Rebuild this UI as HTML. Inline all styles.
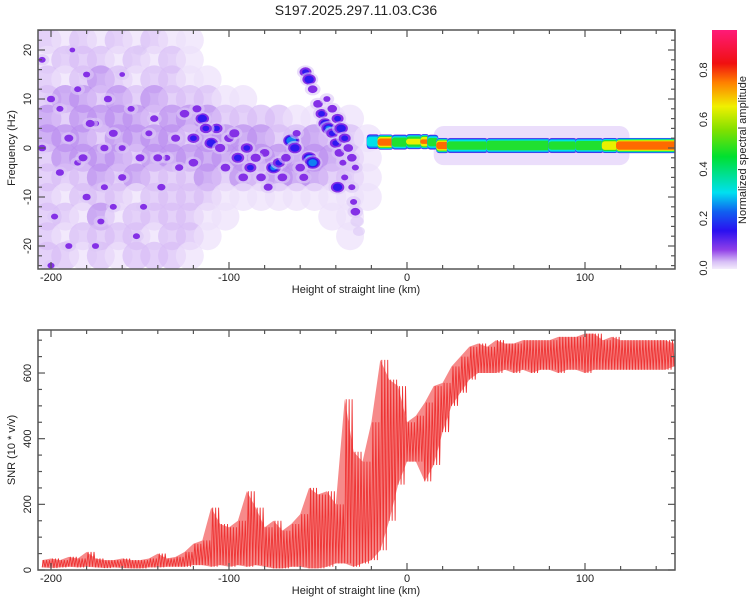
<!DOCTYPE html>
<html><head><meta charset="utf-8">
<style>
html,body{margin:0;padding:0;background:#fff;}
svg text{font-family:"Liberation Sans",sans-serif;fill:#222;}
</style></head>
<body>
<svg id="chart" width="750" height="600" xmlns="http://www.w3.org/2000/svg">
<defs>
<clipPath id="clipTop"><rect x="38" y="30" width="637" height="239"/></clipPath>
<clipPath id="clipBot"><rect x="38" y="330" width="637" height="240"/></clipPath>
<linearGradient id="cbGrad" x1="0" y1="1" x2="0" y2="0">
<stop offset="0" stop-color="#f4ecfc"/><stop offset="0.03" stop-color="#d8c0f6"/>
<stop offset="0.08" stop-color="#9040e8"/><stop offset="0.16" stop-color="#2a10f0"/>
<stop offset="0.24" stop-color="#1060f0"/><stop offset="0.32" stop-color="#00e0f0"/>
<stop offset="0.47" stop-color="#00e030"/><stop offset="0.58" stop-color="#80e000"/>
<stop offset="0.68" stop-color="#f0f000"/><stop offset="0.78" stop-color="#ff8000"/>
<stop offset="0.86" stop-color="#f01010"/><stop offset="1" stop-color="#ff1a78"/>
</linearGradient>
</defs>
<text x="356" y="15" font-size="14" text-anchor="middle">S197.2025.297.11.03.C36</text>
<g id="topPlot"></g>
<g id="botPlot"></g>
<g id="cbar"></g>
</svg>
<script>
// ---------- data ----------
const bgRowFreqs = [22,18,14,10,6,2,-2,-6,-10,-14,-18,-22];
const bgColStart = -207;
const bgRows = [
"21212121100000000000",
"12221212100000000000",
"21232122110000000000",
"23323232221100000000",
"32333323332222111100",
"33323333233332232210",
"23333233333333333210",
"22232322232323332210",
"21222122221111111110",
"22131222211000001100",
"21222212210000000100",
"22121222100000000000"];
const blobKm  = [-57,-55,-53,-50,-48,-46,-44,-42,-40,-38,-36,-45,-42,-39,-37,-35,-33,-31,-29,-39,-35,-31,-30,-29,-28,-27,-75,-72,-65,-63,-55,-53,-110,-107,-115,-113,-120,-125,-95,-88,-82,-100,-90,-70,-60,-80,-135,-145,-160,-175,-185,-195,-165,-190,-180,-150,-170,-200,-205,
 -200,-195,-190,-185,-180,-178,-172,-168,-165,-160,-155,-150,-148,-142,-138,-130,-128,-198,-188,-175,-160,-152,-205,-182,-170,-140,-120,-118,-105,-102,-97,-92,-85,-78,-68,-58,-62];
const blobHz  = [15.5,14,12,9,7,5,4,3,1,-1,-3,10,8,6,4,2,0,-2,-4,-8,-6,-8,-11,-13,-15,-17,-4,-3,1.5,0,-2,-3,1,4,6,4,2,7,-2,-4,-6,2,0,-6,-4,-1,-2,3,0,5,-3,8,-12,-20,15,20,-8,-24,18,
 10,-5,2,12,-10,5,-15,10,3,-6,8,-2,-12,6,-8,2,-4,-14,20,-20,15,-18,0,-2,0,-2,-3,8,0,-4,3,-6,-2,-8,-2,-6,3];
const blobAmp = [0.2,0.25,0.15,0.15,0.2,0.25,0.3,0.2,0.2,0.15,0.12,0.12,0.15,0.2,0.25,0.2,0.15,0.15,0.12,0.25,0.12,0.12,0.12,0.15,0.1,0.08,0.3,0.2,0.4,0.25,0.3,0.35,0.25,0.2,0.25,0.2,0.2,0.15,0.22,0.2,0.15,0.15,0.2,0.15,0.15,0.15,0.12,0.12,0.12,0.12,0.12,0.12,0.12,0.12,0.12,0.1,0.12,0.12,0.12,
 0.13,0.13,0.14,0.12,0.13,0.14,0.12,0.13,0.14,0.13,0.12,0.14,0.12,0.13,0.13,0.14,0.13,0.12,0.11,0.12,0.11,0.12,0.13,0.14,0.13,0.14,0.15,0.14,0.16,0.15,0.16,0.15,0.16,0.14,0.15,0.14,0.13];
const bandStart = [-22,-16,-8,0,8,12,17,23,45,80,95,110,118];
const bandEnd   = [-16,-8,0,8,12,17,23,45,80,95,110,118,151];
const bandAmp   = [0.5,0.9,0.65,0.72,0.85,0.62,0.9,0.62,0.68,0.62,0.66,0.8,0.95];
const bandHz    = [1.3,1.2,1.2,1.3,1.3,1.2,0.5,0.5,0.5,0.5,0.5,0.5,0.5];
const hazeStart = 15, hazeEnd = 125, hazeHalfHz = 4;
const snrKm = [];
for (let k=-205;k<=150;k+=5) snrKm.push(k);
const snrLow  = [8,6,8,10,8,10,8,6,8,6,5,5,8,8,10,10,10,15,15,10,15,10,15,10,15,10,5,5,10,10,5,5,10,20,20,10,20,30,60,150,260,330,330,270,320,420,500,540,580,600,600,600,610,600,610,600,610,610,600,610,610,600,610,610,610,610,610,610,610,610,610,620];
const snrHigh = [30,35,30,40,35,55,35,30,30,35,30,30,35,50,35,40,55,80,90,190,140,130,150,240,190,130,150,120,140,170,250,230,240,200,520,360,330,450,640,580,560,450,470,510,560,570,620,650,680,690,680,700,690,690,700,700,700,700,710,710,710,720,720,700,710,700,700,700,700,700,700,690];
const xTickLabels = [-200,-100,0,100];
const fTickLabels = [-20,-10,0,10,20];
const snrTickLabels = [0,200,400,600];
const cbTickLabels = ["0.0","0.2","0.4","0.6","0.8"];

// ---------- scales ----------
const NS="http://www.w3.org/2000/svg";
const X = km => 407 + km*1.78;
const YF = hz => 148 - hz*4.9;
const YS = v => 570 - v*0.3283;
const YC = a => 268 - a*247.5;
const levels = [0.04,0.1,0.17,0.26,0.4,0.55,0.7,0.84,0.95];
const levelColors = ["#dcc8f7","#8430e6","#3018f0","#1080f0","#00e0e8","#20e030","#e8f000","#ff6a00","#ff1040"];
const bgColors = ["none","#ecdffb","#d9bef6","#bb8ef0","#8a40e4"];
function el(tag, attrs, parent){const e=document.createElementNS(NS,tag);for(const k in attrs)e.setAttribute(k,attrs[k]);parent.appendChild(e);return e;}

const topG = document.getElementById('topPlot');
const botG = document.getElementById('botPlot');
const cbG = document.getElementById('cbar');

// ---------- spectrogram ----------
const gT = el('g',{'clip-path':'url(#clipTop)'},topG);
bgRows.forEach((row,ri)=>{
  for(let ci=0;ci<row.length;ci++){
    const lv=+row[ci]; if(!lv) continue;
    const r=el('ellipse',{cx:X(bgColStart+ci*10+5),cy:YF(bgRowFreqs[ri]),rx:14,ry:14,fill:bgColors[lv],'fill-opacity':0.7},gT);
    
    
  }
});
const haze=el('rect',{x:X(hazeStart),y:YF(0.5+hazeHalfHz),width:X(hazeEnd)-X(hazeStart),height:2*hazeHalfHz*4.9,rx:10,fill:'#e6d6fa','fill-opacity':0.8},gT);


blobKm.forEach((km,i)=>{
  const a=blobAmp[i];
  levels.forEach((t,li)=>{
    if(t>=a) return;
    const s=Math.sqrt(Math.log(a/t));
    const e=el('ellipse',{cx:X(km),cy:YF(blobHz[i]),rx:6*s+1,ry:4.5*s+1,fill:levelColors[li],'fill-opacity':li===0?0.6:1},gT);
    
    
  });
});
bandStart.forEach((s,i)=>{
  const a=bandAmp[i];
  levels.forEach((t,li)=>{
    if(t>=a) return;
    const h=7.5*Math.pow(1-t/a,0.3)+0.3;
    const r=el('rect',{x:X(s)-1,y:YF(bandHz[i])-h,width:X(bandEnd[i])-X(s)+2,height:2*h,rx:Math.min(h,3),fill:levelColors[li]},gT);
    
    
  });
});

function frame(g,y0,y1,name){
  const r=el('rect',{x:38,y:y0,width:637,height:y1-y0,fill:'none',stroke:'#555','stroke-width':1.5},g);
  
  
  for(let k=-200;k<=150;k+=20){
    const major = k%100===0, len = major?7:4;
    el('line',{x1:X(k),x2:X(k),y1:y1,y2:y1-len,stroke:'#555','stroke-width':1.2},g);
    el('line',{x1:X(k),x2:X(k),y1:y0,y2:y0+len,stroke:'#555','stroke-width':1.2},g);
  }
  xTickLabels.forEach(k=>{
    const t=el('text',{x:X(k),y:y1+12,'font-size':11,'text-anchor':'middle'},g);t.textContent=k;
    
    
  });
  const xt=el('text',{x:356,y:y1+24,'font-size':11,'text-anchor':'middle'},g);xt.textContent='Height of straight line (km)';
  
  
}
frame(topG,30,269,'spectrogram-frame');
for(let f=-24;f<=24;f+=2){
  const major=f%10===0, len=major?7:4;
  el('line',{x1:38,x2:38+len,y1:YF(f),y2:YF(f),stroke:'#555','stroke-width':1.2},topG);
  el('line',{x1:675,x2:675-len,y1:YF(f),y2:YF(f),stroke:'#555','stroke-width':1.2},topG);
}
fTickLabels.forEach(f=>{
  const t=el('text',{x:0,y:0,'font-size':11,'text-anchor':'middle',transform:`translate(31,${YF(f)}) rotate(-90)`},topG);t.textContent=f;
  
  
});
const yt=el('text',{x:0,y:0,'font-size':11,'text-anchor':'middle',transform:'translate(15,148) rotate(-90)'},topG);yt.textContent='Frequency (Hz)';



// ---------- SNR ----------
const gS = el('g',{'clip-path':'url(#clipBot)'},botG);
let bandPts = snrKm.map((k,i)=>`${X(k)},${YS(snrHigh[i])}`).concat(snrKm.map((k,i)=>`${X(k)},${YS(snrLow[i])}`).reverse());
const area=el('polygon',{points:bandPts.join(' '),fill:'rgba(240,60,60,0.6)'},gS);


let zz=[];
snrKm.forEach((k,i)=>{
  for(let j=0;j<3;j++){
    zz.push(`${X(k+j*5/3)},${YS(snrLow[i])}`);
    zz.push(`${X(k+j*5/3+5/6)},${YS(snrHigh[i])}`);
  }
});
const line=el('polyline',{points:zz.join(' '),fill:'none',stroke:'#ee3333','stroke-width':0.9},gS);


frame(botG,330,570,'snr-frame');
for(let v=0;v<=700;v+=50){
  const major=v%200===0, len=major?7:4;
  el('line',{x1:38,x2:38+len,y1:YS(v),y2:YS(v),stroke:'#555','stroke-width':1.2},botG);
  el('line',{x1:675,x2:675-len,y1:YS(v),y2:YS(v),stroke:'#555','stroke-width':1.2},botG);
}
snrTickLabels.forEach(v=>{
  const t=el('text',{x:0,y:0,'font-size':11,'text-anchor':'middle',transform:`translate(31,${YS(v)}) rotate(-90)`},botG);t.textContent=v;
  
  
});
const yt2=el('text',{x:0,y:0,'font-size':11,'text-anchor':'middle',transform:'translate(15,450) rotate(-90)'},botG);yt2.textContent='SNR (10 * v/v)';



// ---------- colorbar ----------
const cbr=el('rect',{x:712,y:30,width:25,height:239,fill:'url(#cbGrad)'},cbG);


cbTickLabels.forEach(s=>{
  const t=el('text',{x:0,y:0,'font-size':11,'text-anchor':'middle',transform:`translate(707,${YC(+s)}) rotate(-90)`},cbG);t.textContent=s;
  
  
});
const ct=el('text',{x:0,y:0,'font-size':11,'text-anchor':'middle',transform:'translate(746,150) rotate(-90)'},cbG);ct.textContent='Normalized spectral amplitude';


</script>
</body></html>
